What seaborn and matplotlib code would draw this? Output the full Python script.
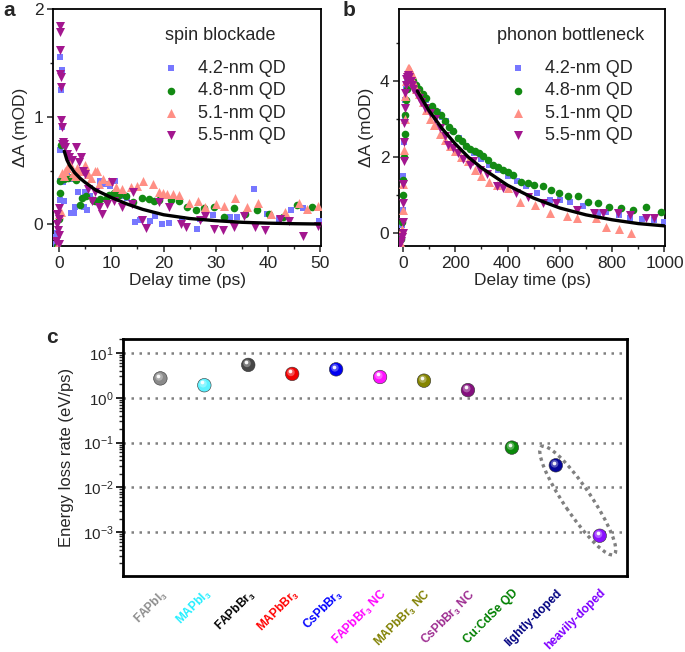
import numpy as np
import pandas as pd
import seaborn as sns
import matplotlib
matplotlib.use("Agg")
import matplotlib.pyplot as plt
import matplotlib.ticker as mticker
from matplotlib.patches import Ellipse
from matplotlib.transforms import ScaledTranslation, offset_copy

# ---------------- data: panel a (spin blockade) ----------------
a42_t = [-0.8, -0.5, -0.3, 0.0, 0.1, 0.2, 0.26, 0.38, 0.5, 0.64, 0.25, 0.8, 1.0, 1.5, 2.2, 2.2, 2.8, 3.1, 3.6,
         4.7, 5.0, 5.4, 6.0, 7.8, 7.9, 8.8, 9.8, 10.7, 12.3, 13.0, 14.5, 15.5, 17.4, 18.3, 19.7, 21.0,
         23.5, 26.3, 27.0, 29.5, 32.7, 34.1, 37.3, 39.7, 42.0, 44.3, 46.7, 49.7]
a42_v = [-0.18, -0.12, -0.08, 0.10, 0.23, 0.40, 1.55, 1.25, 1.43, 0.90, 0.69, 0.39, 0.22, 0.45, 0.42, 0.11, 0.11, 0.16, 0.30,
         0.16, 0.30, 0.13, 0.26, 0.40, 0.38, 0.38, 0.36, 0.40, 0.26, 0.25, 0.02, 0.04, 0.03, 0.08, 0.00, 0.01,
         0.05, -0.04, 0.05, 0.09, 0.07, 0.07, 0.33, 0.10, 0.05, 0.13, 0.15, 0.03]

a48_t = [-0.3, 0.0, 0.2, 0.26, 0.45, 1.0, 1.2, 1.8, 2.5, 3.2, 4.0, 4.4, 5.2, 6.5, 6.9, 7.8, 9.0, 9.5, 10.5, 11.5,
         12.9, 14.2, 15.9, 17.2, 18.1, 19.2, 21.5, 22.9, 24.5, 26.1, 27.7, 29.6, 31.5, 33.4, 35.6, 37.9, 40.2,
         42.9, 45.6, 48.3]
a48_v = [-0.20, 0.05, 0.40, 0.29, 0.74, 0.42, 0.44, 0.43, 0.44, 0.41, 0.18, 0.25, 0.26, 0.23, 0.22, 0.24, 0.24, 0.27, 0.29, 0.27,
         0.26, 0.21, 0.25, 0.24, 0.22, 0.23, 0.23, 0.22, 0.16, 0.13, 0.15, 0.16, 0.07, 0.15, 0.10, 0.13, 0.10,
         0.07, 0.18, 0.16]

a51_t = [-0.3, 0.0, 0.3, 0.6, 1.0, 1.2, 1.6, 2.1, 2.6, 3.0, 3.5, 4.0, 4.4, 5.0, 5.6, 6.2, 6.9, 7.3, 7.6, 8.5, 9.5,
         10.8, 12.1, 13.7, 15.0, 16.1, 18.0, 19.1, 19.9, 20.7, 21.8, 23.0, 24.8, 26.5, 28.0, 30.0, 31.5, 33.7,
         35.9, 38.0, 40.5, 43.2, 45.8, 47.5, 49.5]
a51_v = [-0.20, 0.10, 0.12, 0.48, 0.45, 0.50, 0.52, 0.56, 0.48, 0.45, 0.52, 0.50, 0.50, 0.55, 0.47, 0.43, 0.50, 0.50, 0.38, 0.42, 0.40,
         0.35, 0.33, 0.35, 0.36, 0.40, 0.38, 0.30, 0.29, 0.28, 0.28, 0.27, 0.20, 0.22, 0.16, 0.19, 0.17, 0.25,
         0.16, 0.20, 0.10, 0.12, 0.20, 0.14, 0.17]

a55_t = [-0.5, -0.4, -0.3, -0.2, -0.1, -0.1, 0.0, 0.0, 0.1, 0.1, 0.2, 0.2, 0.3, 0.3, 0.4, 0.5, 0.6, 0.8, 1.0, 1.2,
         1.5, 2.0, 2.5, 3.2, 3.8, 4.2, 4.5, 5.0, 5.5, 6.3, 6.8, 7.6, 8.2, 9.2, 10.2, 10.5, 12.1, 14.0, 14.2,
         15.8, 16.7, 19.1, 21.0, 23.4, 24.2, 27.0, 28.0, 29.7, 31.4, 33.4, 35.3, 37.4, 39.4, 42.3, 43.9, 46.6, 49.6]
a55_v = [-0.15, 0.00, 0.10, -0.05, 0.15, -0.10, 0.05, -0.18, 1.84, 1.79, 1.62, 1.40, 1.37, 1.28, 0.97, 0.90, 0.75, 0.77, 0.75, 0.72,
         0.65, 0.63, 0.60, 0.72, 0.58, 0.63, 0.50, 0.47, 0.33, 0.22, 0.30, 0.16, 0.10, 0.19, 0.39, 0.22, 0.16, 0.19, 0.30,
         0.04, -0.03, 0.21, 0.16, 0.00, -0.02, 0.04, 0.08, -0.04, -0.05, -0.02, 0.08, -0.02, -0.05, 0.05, 0.03, -0.11, -0.01]

fit_a_t = [1.0, 1.5, 2.0, 3.0, 4.0, 5.0, 7.0, 10.0, 13.0, 16.0, 20.0, 25.0, 30.0, 35.0, 40.0, 45.0, 50.0]
fit_a_v = [0.68, 0.60, 0.55, 0.48, 0.43, 0.39, 0.32, 0.25, 0.19, 0.14, 0.09, 0.055, 0.035, 0.02, 0.012, 0.007, 0.004]

# ---------------- data: panel b (phonon bottleneck) ----------------
b42_t = [-8, -4, 0, 2, 4, 6, 8, 11, 14, 18, 22, 27, 33, 40, 50, 60, 75, 90, 110, 134, 150, 166, 190, 215, 240,
         270, 300, 330, 363, 402, 435, 472, 511, 562, 600, 638, 690, 745, 777, 827, 870, 915, 960, 997]
b42_v = [-0.1, 0.2, 0.6, 1.5, 2.4, 3.0, 3.5, 3.8, 4.0, 4.1, 4.15, 4.1, 4.0, 3.95, 3.85, 3.75, 3.6, 3.5, 3.3, 3.2,
         3.05, 2.95, 2.7, 2.5, 2.3, 2.1, 1.95, 1.8, 1.67, 1.49, 1.38, 1.24, 1.05, 0.87, 0.88, 0.83, 0.72, 0.52,
         0.55, 0.48, 0.40, 0.36, 0.35, 0.28]

b48_t = [-8, -4, 0, 2, 4, 6, 8, 11, 14, 18, 22, 27, 33, 40, 50, 60, 75, 90, 110, 128, 145, 160, 176, 192, 211,
         227, 243, 258, 274, 290, 306, 325, 345, 364, 383, 402, 421, 452, 477, 503, 535, 567, 598, 630, 668,
         706, 745, 789, 834, 878, 929, 986]
b48_v = [-0.15, 0.3, 1.0, 1.4, 2.0, 2.6, 3.1, 3.5, 3.8, 4.0, 4.1, 4.1, 4.05, 4.0, 3.9, 3.8, 3.65, 3.55, 3.35,
         3.21, 3.1, 2.95, 2.8, 2.68, 2.5, 2.42, 2.3, 2.22, 2.15, 2.1, 2.02, 1.92, 1.8, 1.75, 1.67, 1.6, 1.54,
         1.35, 1.33, 1.27, 1.23, 1.14, 1.06, 0.97, 0.97, 0.82, 0.78, 0.69, 0.66, 0.60, 0.69, 0.56]

b51_t = [-8, -4, 0, 2, 4, 6, 8, 11, 14, 18, 22, 27, 33, 40, 50, 60, 75, 90, 105, 120, 140, 160, 180, 200, 223,
         249, 275, 300, 330, 360, 402, 447, 505, 562, 626, 664, 740, 777, 828, 872]
b51_v = [-0.3, 0.1, 0.6, 1.3, 2.2, 3.0, 3.6, 4.0, 4.2, 4.35, 4.35, 4.3, 4.2, 4.0, 3.8, 3.65, 3.45, 3.25, 3.0,
         2.85, 2.6, 2.45, 2.3, 2.15, 2.0, 1.9, 1.65, 1.5, 1.35, 1.27, 1.2, 0.83, 0.74, 0.52, 0.45, 0.40, 0.40,
         0.17, 0.12, 0.01]

b55_t = [-10, -6, -3, -1, 0, 1, 2, 3, 4, 5, 6, 8, 10, 13, 16, 20, 25, 30, 35, 40, 50, 60, 70, 85, 103, 122, 141,
         160, 173, 190, 211, 230, 255, 269, 294, 320, 358, 384, 434, 480, 536, 587, 664, 732, 765, 822, 870,
         930, 961]
b55_v = [-0.3, -0.2, -0.1, 0.0, 0.3, 0.8, 1.3, 1.9, 2.4, 2.9, 3.3, 3.7, 3.9, 4.05, 4.1, 4.15, 4.1, 4.0, 3.9,
         3.8, 3.7, 3.55, 3.45, 3.3, 3.17, 3.0, 2.77, 2.55, 2.33, 2.25, 2.11, 1.95, 1.8, 1.89, 1.67, 1.55, 1.23,
         1.19, 1.05, 0.96, 0.80, 0.80, 0.60, 0.52, 0.52, 0.52, 0.48, 0.40, 0.40]

fit_b_t = [55, 100, 150, 200, 250, 300, 400, 500, 600, 700, 800, 900, 1000]
fit_b_v = [3.74, 3.22, 2.75, 2.35, 2.0, 1.72, 1.26, 0.92, 0.66, 0.48, 0.35, 0.25, 0.19]

series_labels = ["4.2-nm QD", "4.8-nm QD", "5.1-nm QD", "5.5-nm QD"]

# ---------------- data: panel c ----------------
categories = ["FAPbI3", "MAPbI3", "FAPbBr3", "MAPbBr3", "CsPbBr3", "FAPbBr3 NC", "MAPbBr3 NC",
              "CsPbBr3 NC", "Cu:CdSe QD", "lightly-doped", "heavily-doped"]
tick_labels = [r"FAPbI$_\mathbf{3}$", r"MAPbI$_\mathbf{3}$", r"FAPbBr$_\mathbf{3}$", r"MAPbBr$_\mathbf{3}$",
               r"CsPbBr$_\mathbf{3}$", r"FAPbBr$_\mathbf{3}$ NC", r"MAPbBr$_\mathbf{3}$ NC",
               r"CsPbBr$_\mathbf{3}$ NC", "Cu:CdSe QD", "lightly-doped", "heavily-doped"]
loss_rate = [2.7, 1.9, 5.4, 3.4, 4.3, 2.9, 2.4, 1.48, 0.077, 0.031, 0.00083]
ball_colors = ["#8a8a8a", "#5cf2ff", "#474747", "#f00000", "#0000f0", "#ff10ff", "#858500",
               "#85107f", "#0a8a0a", "#06069a", "#8a10ff"]
label_colors = ["#8c8c8c", "#22eeff", "#000000", "#ff0000", "#0000ff", "#ff00ff", "#808000",
                "#9c2a8f", "#008000", "#000080", "#8000ff"]

# ---------------- style ----------------
sns.set_theme(style="ticks")
plt.rcParams["font.family"] = ["Liberation Sans", "DejaVu Sans"]
plt.rcParams["mathtext.fontset"] = "custom"
plt.rcParams["mathtext.rm"] = "Liberation Sans"
plt.rcParams["mathtext.bf"] = "Liberation Sans:bold"
plt.rcParams["mathtext.it"] = "Liberation Sans:italic"
plt.rcParams["axes.linewidth"] = 1.3
plt.rcParams["axes.edgecolor"] = "black"

fig = plt.figure(figsize=(6.85, 6.52), dpi=100)
axa = fig.add_axes([0.0774, 0.6227, 0.3912, 0.3635])
axb = fig.add_axes([0.5825, 0.6227, 0.3883, 0.3635])
axc = fig.add_axes([0.1796, 0.1166, 0.7357, 0.3634])

scol = ["#7777ff", "#138a13", "#ff8f85", "#a3168f"]
smark = ["s", "o", "^", "v"]
ssize = [22, 30, 42, 42]


def panel(ax, data, fit_t, fit_v, title, tx, lx):
    for (t, v), c, m, s, lab in zip(data, scol, smark, ssize, series_labels):
        sns.scatterplot(x=t, y=v, ax=ax, color=c, marker=m, s=s, linewidth=0, label=lab, zorder=3)
    sns.lineplot(x=fit_t, y=fit_v, ax=ax, color="black", linewidth=2.4, zorder=5)
    ax.tick_params(direction="out", length=4, width=1.1, labelsize=12.5, pad=3)
    ax.tick_params(which="minor", direction="out", length=2.5, width=1.0)
    for sp in ax.spines.values():
        sp.set_visible(True)
        sp.set_linewidth(1.3)
    ax.set_xlabel("Delay time (ps)", fontsize=12.5, labelpad=2)
    ax.set_ylabel("ΔA (mOD)", fontsize=12.5, labelpad=4)
    ax.text(tx, 0.89, title, transform=ax.transAxes, fontsize=13, va="center", ha="left")
    leg = ax.legend(loc="upper left", bbox_to_anchor=(lx, 0.785), frameon=False, fontsize=13,
                    handlelength=1.0, handletextpad=1.0, labelspacing=0.3, borderaxespad=0, borderpad=0)
    return leg


panel(axa, [(a42_t, a42_v), (a48_t, a48_v), (a51_t, a51_v), (a55_t, a55_v)], fit_a_t, fit_a_v,
      "spin blockade", 0.418, 0.405)
axa.set_xlim(-1.15, 50.1)
axa.set_ylim(-0.2, 2.0)
axa.xaxis.set_major_locator(mticker.MultipleLocator(10))
axa.xaxis.set_minor_locator(mticker.MultipleLocator(5))
axa.yaxis.set_major_locator(mticker.MultipleLocator(1))
axa.yaxis.set_minor_locator(mticker.MultipleLocator(0.5))

panel(axb, [(b42_t, b42_v), (b48_t, b48_v), (b51_t, b51_v), (b55_t, b55_v)], fit_b_t, fit_b_v,
      "phonon bottleneck", 0.368, 0.413)
axb.set_xlim(-15, 1002)
axb.set_ylim(-0.34, 5.9)
axb.xaxis.set_major_locator(mticker.MultipleLocator(200))
axb.xaxis.set_minor_locator(mticker.MultipleLocator(100))
axb.yaxis.set_major_locator(mticker.MultipleLocator(2))
axb.yaxis.set_minor_locator(mticker.MultipleLocator(1))

# ---------------- panel c ----------------
pos = np.arange(len(categories))
dfc = pd.DataFrame({"pos": pos, "rate": loss_rate, "cat": categories})
axc.set_yscale("log")
axc.set_xlim(-0.85, 10.62)
axc.set_ylim(1.05e-4, 20.4)
sns.scatterplot(data=dfc, x="pos", y="rate", hue="cat", palette=ball_colors, s=95, linewidth=0.4,
                edgecolor="#333333", ax=axc, legend=False, zorder=4)
light = [tuple(0.55 * np.array(matplotlib.colors.to_rgb(c)) + 0.45) for c in ball_colors]
tr1 = offset_copy(axc.transData, fig=fig, x=-0.9, y=1.1, units="points")
axc.scatter(pos, loss_rate, s=30, c=light, linewidths=0, transform=tr1, zorder=5, alpha=0.7)
tr2 = offset_copy(axc.transData, fig=fig, x=-1.6, y=2.0, units="points")
axc.scatter(pos, loss_rate, s=7, c="white", linewidths=0, transform=tr2, zorder=6, alpha=0.95)

axc.yaxis.set_major_locator(mticker.FixedLocator([1e-3, 1e-2, 1e-1, 1e0, 1e1]))
axc.yaxis.set_major_formatter(mticker.LogFormatterMathtext())
axc.yaxis.set_minor_locator(mticker.LogLocator(base=10, subs=np.arange(2, 10), numticks=20))
axc.yaxis.set_minor_formatter(mticker.NullFormatter())
axc.tick_params(axis="y", which="major", direction="out", length=5, width=1.4, labelsize=11, pad=2)
axc.tick_params(axis="y", which="minor", direction="out", length=3, width=1.0)
axc.set_xticks(pos)
axc.set_xticklabels(tick_labels, rotation=45, ha="right", va="top", rotation_mode="anchor",
                    fontsize=8.6, fontweight="bold")
shift = ScaledTranslation(-2 / 72, 0, fig.dpi_scale_trans)
for lab, c in zip(axc.get_xticklabels(), label_colors):
    lab.set_color(c)
    lab.set_transform(lab.get_transform() + shift)
axc.tick_params(axis="x", length=0, pad=8)
axc.set_xlabel("")
axc.set_ylabel("Energy loss rate (eV/ps)", fontsize=12, labelpad=6)
for sp in axc.spines.values():
    sp.set_visible(True)
    sp.set_linewidth(2.0)
axc.grid(axis="y", which="major", color="#808080", linestyle=(0, (1.0, 2.2)), linewidth=1.8)
axc.set_axisbelow(True)

# dotted ellipse around the two doped samples
mid_x = (pos[9] + pos[10]) / 2
mid_y = 10 ** ((np.log10(loss_rate[9]) + np.log10(loss_rate[10])) / 2)
ell = Ellipse((0, 0), width=1.30, height=0.27, angle=-56,
              transform=fig.dpi_scale_trans + ScaledTranslation(mid_x, mid_y, axc.transData),
              fill=False, edgecolor="#808080", linewidth=2.4, linestyle=(0, (1.0, 1.1)), zorder=3)
axc.add_patch(ell)

# panel letters
fig.text(0.005, 0.976, "a", fontsize=15, fontweight="bold", va="baseline")
fig.text(0.500, 0.976, "b", fontsize=15, fontweight="bold", va="baseline")
fig.text(0.068, 0.474, "c", fontsize=15, fontweight="bold", va="baseline")

fig.savefig("out.png", dpi=100)
